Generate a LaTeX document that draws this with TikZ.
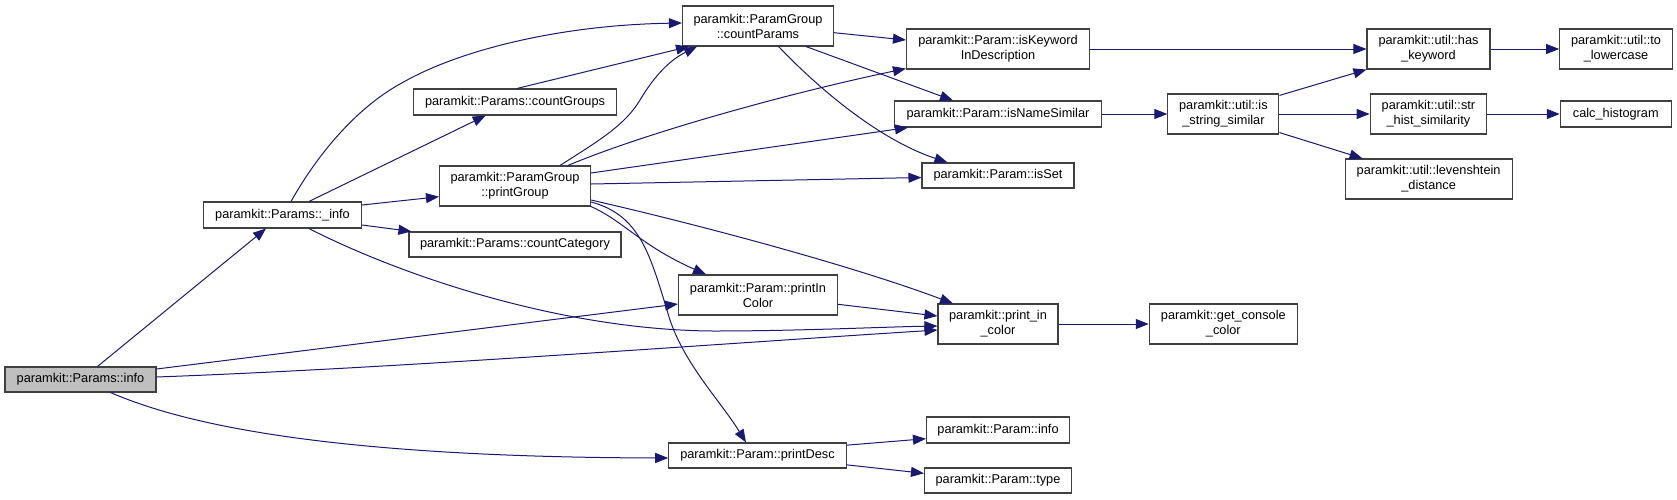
\documentclass[tikz,border=0pt]{standalone}
\usepackage{fontspec}
\setmainfont{Liberation Sans}
\usetikzlibrary{arrows.meta}
\definecolor{edgec}{HTML}{191970}
\definecolor{nodeb}{HTML}{404040}
\definecolor{rootf}{HTML}{BFBFBF}
\begin{document}
\begin{tikzpicture}[x=1pt,y=-1pt,
  box/.style={draw=nodeb, line width=1.1pt, fill=white, inner sep=0pt, align=center,
    font=\fontsize{12.75}{15}\selectfont},
  edge/.style={draw=edgec, line width=1pt, -{Triangle[length=13pt,width=10pt]}}]
\useasboundingbox (0,0) rectangle (1677,499);
% nodes
\node[box, fill=rootf, minimum width=151pt, minimum height=25pt] (info) at (80.5,379.5) {paramkit::Params::info};
\node[box, minimum width=158pt, minimum height=26pt] (pinfo) at (282.5,215) {paramkit::Params::\_info};
\node[box, minimum width=203pt, minimum height=26pt] (cgroups) at (515,102) {paramkit::Params::countGroups};
\node[box, minimum width=151pt, minimum height=40pt] (pgroup) at (515,186) {paramkit::ParamGroup\\::printGroup};
\node[box, minimum width=212pt, minimum height=25pt] (ccat) at (515,244.5) {paramkit::Params::countCategory};
\node[box, minimum width=151pt, minimum height=40pt] (cparams) at (758,26) {paramkit::ParamGroup\\::countParams};
\node[box, minimum width=183pt, minimum height=40pt] (iskw) at (998,49) {paramkit::Param::isKeyword\\InDescription};
\node[box, minimum width=207pt, minimum height=26pt] (isns) at (998,114) {paramkit::Param::isNameSimilar};
\node[box, minimum width=152pt, minimum height=25pt] (isset) at (998,175.5) {paramkit::Param::isSet};
\node[box, minimum width=159pt, minimum height=40pt] (pic) at (758,295) {paramkit::Param::printIn\\Color};
\node[box, minimum width=120pt, minimum height=40pt] (pinc) at (998,324) {paramkit::print\_in\\\_color};
\node[box, minimum width=177.5pt, minimum height=25pt] (pdesc) at (757.5,455.5) {paramkit::Param::printDesc};
\node[box, minimum width=143pt, minimum height=26pt] (pinfo2) at (998,430) {paramkit::Param::info};
\node[box, minimum width=147pt, minimum height=25pt] (ptype) at (998,480.5) {paramkit::Param::type};
\node[box, minimum width=123pt, minimum height=40pt] (haskw) at (1428.5,49) {paramkit::util::has\\\_keyword};
\node[box, minimum width=112.5pt, minimum height=40pt] (tolow) at (1616,49) {paramkit::util::to\\\_lowercase};
\node[box, minimum width=111pt, minimum height=40pt] (iss) at (1223.4,114) {paramkit::util::is\\\_string\_similar};
\node[box, minimum width=116.4pt, minimum height=40pt] (strh) at (1428.4,114) {paramkit::util::str\\\_hist\_similarity};
\node[box, minimum width=111pt, minimum height=26pt] (calch) at (1615.8,114) {calc\_histogram};
\node[box, minimum width=167pt, minimum height=40pt] (lev) at (1428.6,179) {paramkit::util::levenshtein\\\_distance};
\node[box, minimum width=148pt, minimum height=40pt] (gcc) at (1223.3,324) {paramkit::get\_console\\\_color};
% edges
\draw[edge] ([xshift=17pt]info.north) -- ([xshift=-16.5pt]pinfo.south);
\draw[edge] ([yshift=10.5pt]info.east) -- ([yshift=-9pt]pic.west);
\draw[edge] ([yshift=2.5pt]info.east) .. controls (400,368) and (700,345) .. ([yshift=-6pt]pinc.west);
\draw[edge] ([xshift=30pt]info.south) .. controls (170,418) and (300,457) .. ([yshift=-2.5pt]pdesc.west);
\draw[edge] ([xshift=8.5pt]pinfo.north) .. controls (320,150) and (360,105) .. (403.6,82) .. controls (460,50) and (560,25) .. ([yshift=3pt]cparams.west);
\draw[edge] ([xshift=26.5pt]pinfo.north) -- ([xshift=-29.3pt]cgroups.south);
\draw[edge] ([yshift=10pt]pinfo.east) -- ([yshift=-10.7pt]pgroup.west);
\draw[edge] ([yshift=-10pt]pinfo.east) -- ([xshift=3pt]ccat.north west);
\draw[edge] ([xshift=26.5pt]pinfo.south) .. controls (400,275) and (560,330) .. (713,331) .. controls (800,331) and (880,327) .. ([yshift=-2pt]pinc.west);
\draw[edge] ([xshift=45pt]pgroup.north) .. controls (600,140) and (625,125) .. (640,100) .. controls (655,75) and (670,60) .. ([xshift=-61pt]cparams.south);
\draw[edge] ([xshift=53pt]pgroup.north) .. controls (640,135) and (780,95) .. ([yshift=1pt]iskw.south west);
\draw[edge] ([yshift=13pt]pgroup.east) -- ([xshift=14pt]isns.south west);
\draw[edge] ([yshift=2pt]pgroup.east) -- ([yshift=-2pt]isset.west);
\draw[edge] ([yshift=-14pt]pgroup.east) .. controls (700,225) and (850,265) .. ([xshift=-45pt]pinc.north);
\draw[edge] (pgroup.south east) .. controls (625,222) and (640,245) .. ([xshift=-52pt]pic.north);
\draw[edge] ([yshift=-16pt]pgroup.east) .. controls (640,215) and (650,255) .. (667,310) .. controls (680,360) and (720,400) .. ([xshift=-11.5pt]pdesc.north);
\draw[edge] ([xshift=2pt]cgroups.north) -- ([xshift=-69pt]cparams.south);
\draw[edge] ([yshift=-6.7pt]cparams.east) -- ([yshift=9pt]iskw.west);
\draw[edge] ([xshift=48pt]cparams.south) -- ([xshift=-45pt]isns.north);
\draw[edge] ([xshift=20.6pt]cparams.south) .. controls (820,90) and (880,140) .. ([xshift=-50.5pt]isset.north);
\draw[edge] (iskw.east) -- (haskw.west);
\draw[edge] (isns.east) -- (iss.west);
\draw[edge] ([yshift=-2pt]iss.north east) -- (haskw.south west);
\draw[edge] (iss.east) -- (strh.west);
\draw[edge] ([yshift=2pt]iss.south east) -- ([xshift=18pt]lev.north west);
\draw[edge] (haskw.east) -- (tolow.west);
\draw[edge] (strh.east) -- (calch.west);
\draw[edge] ([yshift=-9.3pt]pic.east) -- ([yshift=8pt]pinc.west);
\draw[edge] (pinc.east) -- (gcc.west);
\draw[edge] ([yshift=-2.7pt]pdesc.north east) -- ([yshift=-8.7pt]pinfo2.west);
\draw[edge] ([yshift=3.7pt]pdesc.south east) -- ([yshift=7.2pt]ptype.west);
\end{tikzpicture}
\end{document}
